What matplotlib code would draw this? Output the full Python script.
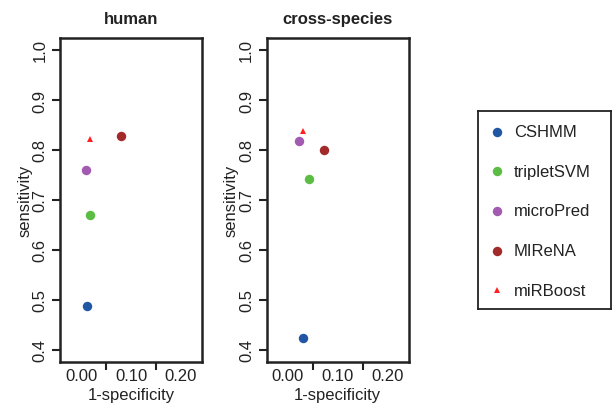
import matplotlib
matplotlib.use("Agg")
import matplotlib.pyplot as plt

plt.rcParams['font.family'] = ['Liberation Sans', 'DejaVu Sans']
plt.rcParams['font.size'] = 12

# data
methods = ["CSHMM", "tripletSVM", "microPred", "MIReNA", "miRBoost"]
colors = ["#2156a5", "#5cbd44", "#a25bb0", "#a32a2a", "#ff2020"]
markers = ["o", "o", "o", "o", "^"]
panels = ["human", "cross-species"]
fpr_human = [0.012, 0.017, 0.010, 0.080, 0.017]
sens_human = [0.488, 0.671, 0.760, 0.829, 0.823]
fpr_cross = [0.031, 0.043, 0.022, 0.072, 0.030]
sens_cross = [0.424, 0.742, 0.818, 0.800, 0.839]
fpr_all = [fpr_human, fpr_cross]
sens_all = [sens_human, sens_cross]

W, H = 613, 406
fig = plt.figure(figsize=(W / 100, H / 100), dpi=100)

def px_axes(x0, y0, x1, y1):
  return fig.add_axes([x0 / W, 1 - y1 / H, (x1 - x0) / W, (y1 - y0) / H])

boxes = [(60, 39, 202, 363), (266.5, 39, 409, 363)]

for k, title in enumerate(panels):
  ax = px_axes(*boxes[k])
  for i, m in enumerate(methods):
    ms = 4 if markers[i] == "^" else 6.8
    ax.plot(fpr_all[k][i], sens_all[k][i], linestyle="none", marker=markers[i],
            color=colors[i], markersize=ms, markeredgewidth=0)
  ax.set_xlim(-0.042, 0.242)
  ax.set_ylim(0.376, 1.024)
  ax.set_yticks([0.4, 0.5, 0.6, 0.7, 0.8, 0.9, 1.0])
  ax.set_yticklabels(["0.4", "0.5", "0.6", "0.7", "0.8", "0.9", "1.0"],
                     rotation=90, va="center")
  # minor ticks carry the marks, major ticks only carry the labels
  ax.set_xticks([0.0, 0.1, 0.2])
  ax.set_xticklabels(["0.00", "0.10", "0.20"])
  ax.set_xticks([0.05, 0.15], minor=True)
  ax.tick_params(axis="x", which="major", length=0, pad=4, colors="#222222")
  ax.tick_params(axis="x", which="minor", length=6, width=1.5, color="#222222")
  ax.tick_params(axis="y", length=6, width=1.5, pad=3, colors="#222222")
  for s in ax.spines.values():
    s.set_linewidth(1.8)
    s.set_color("#222222")
  ax.set_xlabel("1-specificity", labelpad=3, color="#222222")
  ax.set_ylabel("sensitivity", labelpad=0, color="#222222")
  ax.set_title(title, fontweight="bold", fontsize=12, pad=11, color="#222222")

# legend box
lax = px_axes(478, 112, 611, 310)
lax.set_xlim(0, 1)
lax.set_ylim(0, 1)
lax.set_xticks([])
lax.set_yticks([])
for s in lax.spines.values():
  s.set_linewidth(1.3)
  s.set_color("#222222")
for i, m in enumerate(methods):
  yy = 1 - (0.105 + i * 0.2)
  ms = 4 if markers[i] == "^" else 6.8
  lax.plot(0.14, yy, linestyle="none", marker=markers[i], color=colors[i],
           markersize=ms, markeredgewidth=0)
  lax.text(0.27, yy, m, va="center", ha="left", color="#222222")

fig.savefig("out.png", dpi=100)
